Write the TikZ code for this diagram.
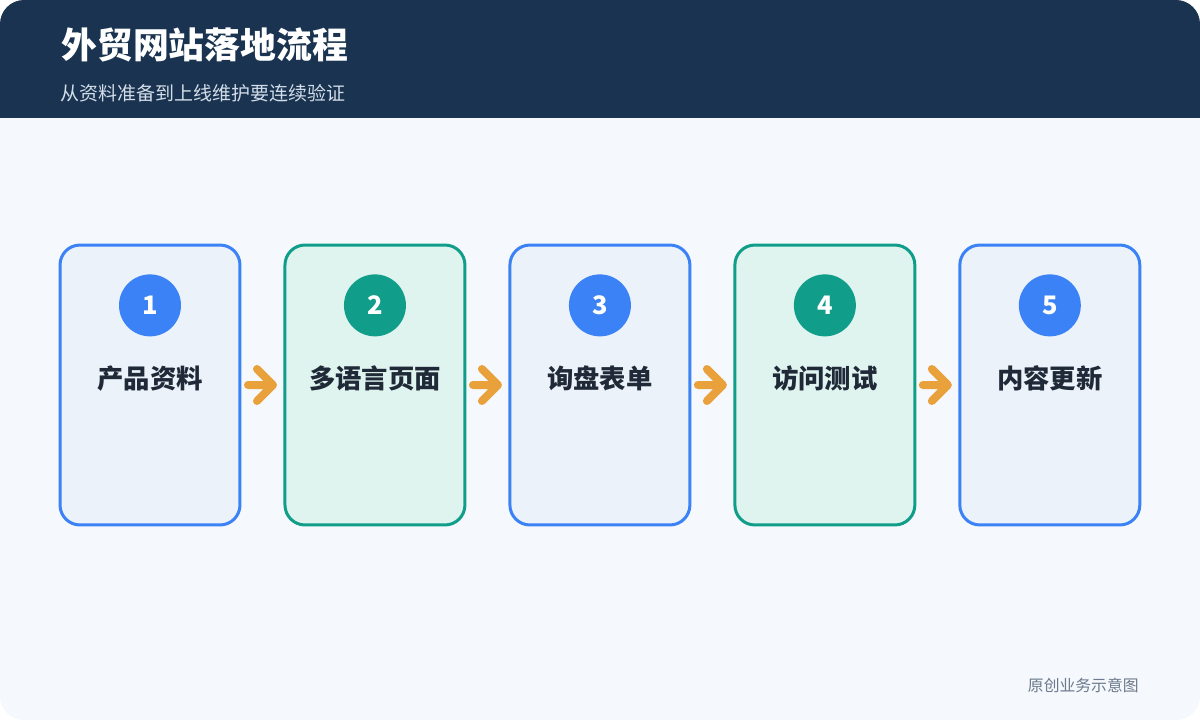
\documentclass[tikz,border=0pt]{standalone}
\usepackage{fontspec}
\setmainfont{Noto Sans CJK SC}
\usepackage{tikz}
\usetikzlibrary{positioning, calc}
\definecolor{HeaderNavy}{HTML}{193350}
\definecolor{PageBg}{HTML}{F5F8FC}
\definecolor{StepBlue}{HTML}{3B82F6}
\definecolor{StepBlueFill}{HTML}{EBF2F9}
\definecolor{StepTeal}{HTML}{109E8A}
\definecolor{StepTealFill}{HTML}{DFF3EF}
\definecolor{LabelInk}{HTML}{1F2937}
\definecolor{FlowOrange}{HTML}{E9A23B}
\definecolor{SubInk}{HTML}{D4DEEA}
\definecolor{NoteInk}{HTML}{6B7A8C}
\tikzset{
    % one line width for all step borders
    base_width/.style={line width=0.06cm},
    % common look of the five step boxes
    step_box/.style={
        rectangle,
        base_width,
        minimum width=3.6cm,
        minimum height=5.6cm,
        rounded corners=0.4cm
    },
    blue_box/.style={
        step_box,
        draw=StepBlue,
        fill=StepBlueFill
    },
    teal_box/.style={
        step_box,
        draw=StepTeal,
        fill=StepTealFill
    },
    % numbered badge at the top of each box
    step_num/.style={
        circle,
        minimum size=1.24cm,
        inner sep=0pt,
        text=white,
        font=\bfseries\fontsize{14.5}{16}\selectfont
    },
    blue_num/.style={step_num, fill=StepBlue},
    teal_num/.style={step_num, fill=StepTeal},
    step_label/.style={
        font=\bfseries\fontsize{15}{18}\selectfont,
        text=LabelInk
    },
    flow_arrow/.style={
        draw=FlowOrange,
        line width=0.16cm,
        line cap=round,
        line join=round
    }
}

\begin{document}
\begin{tikzpicture}[x=0.02cm, y=-0.02cm]

    \useasboundingbox (0,0) rectangle (1200,720);

    % --- BACKGROUND & HEADER ---
    \begin{scope}
        \clip[rounded corners=0.48cm] (0,0) rectangle (1200,720);
        \fill[PageBg] (0,0) rectangle (1200,720);
        \fill[HeaderNavy] (0,0) rectangle (1200,118);
    \end{scope}
    \node[anchor=west, text=white, font=\bfseries\fontsize{20.4}{24}\selectfont, inner sep=0pt] (title) at (61,45) {外贸网站落地流程};
    \node[anchor=west, text=SubInk, font=\fontsize{10.8}{13}\selectfont, inner sep=0pt] (subtitle) at (60,93) {从资料准备到上线维护要连续验证};

    % --- STEP BOXES ---
    \node[blue_box] (box1) at (150,385) {};
    \node[teal_box, right=0.84cm of box1] (box2) {};
    \node[blue_box, right=0.84cm of box2] (box3) {};
    \node[teal_box, right=0.84cm of box3] (box4) {};
    \node[blue_box, right=0.84cm of box4] (box5) {};

    % --- BADGES & LABELS ---
    \node[blue_num, below=0.61cm of box1.north] (num1) {1};
    \node[teal_num, below=0.61cm of box2.north] (num2) {2};
    \node[blue_num, below=0.61cm of box3.north] (num3) {3};
    \node[teal_num, below=0.61cm of box4.north] (num4) {4};
    \node[blue_num, below=0.61cm of box5.north] (num5) {5};

    \node[step_label] (label1) at ($(num1)+(0,-1.46cm)$) {产品资料};
    \node[step_label] (label2) at ($(num2)+(0,-1.46cm)$) {多语言页面};
    \node[step_label] (label3) at ($(num3)+(0,-1.46cm)$) {询盘表单};
    \node[step_label] (label4) at ($(num4)+(0,-1.46cm)$) {访问测试};
    \node[step_label] (label5) at ($(num5)+(0,-1.46cm)$) {内容更新};

    % --- CONNECTIONS ---
    \foreach \a/\b in {1/2, 2/3, 3/4, 4/5} {
        \draw[flow_arrow] ($(box\a.east)+(0.13cm,0)$) -- ($(box\b.west)+(-0.21cm,0)$) coordinate (tip\a)
            ++(-0.32cm,0.32cm) -- (tip\a) -- ++(-0.32cm,-0.32cm);
    }

    % --- FOOTNOTE ---
    \node[anchor=east, text=NoteInk, font=\fontsize{9}{11}\selectfont, inner sep=0pt] (note) at (1139,685) {原创业务示意图};

\end{tikzpicture}
\end{document}
